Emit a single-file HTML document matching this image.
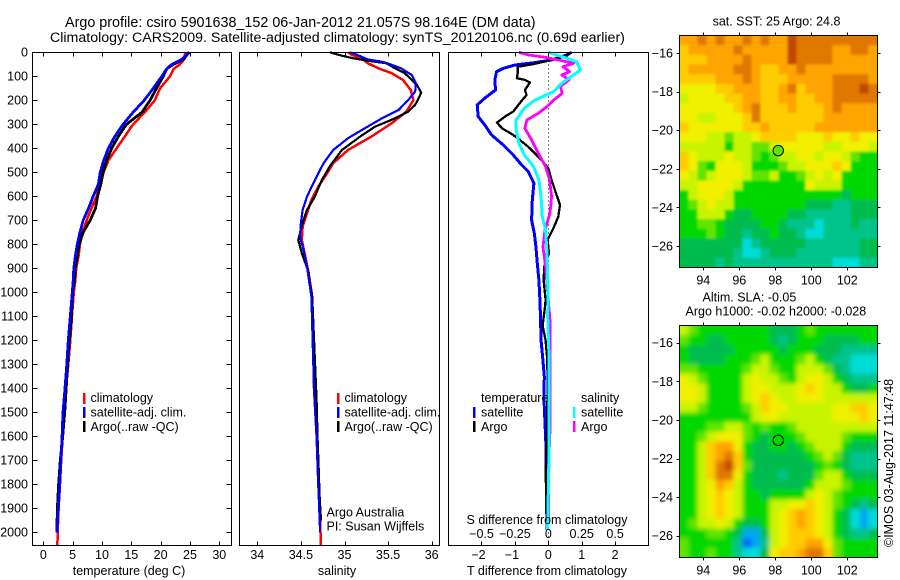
<!DOCTYPE html>
<html><head><meta charset="utf-8"><title>Argo profile</title>
<style>
html,body{margin:0;padding:0;background:#fff}
svg{display:block}
text{font-family:"Liberation Sans",sans-serif;font-size:12.5px;fill:#000}
text.big1{font-size:14.35px}
text.big2{font-size:14.2px}
</style></head>
<body>
<svg id="chart" width="900" height="580" viewBox="0 0 900 580" xmlns="http://www.w3.org/2000/svg">
<defs>
<clipPath id="clipSla"><rect x="679.5" y="325.5" width="198" height="232"/></clipPath>
<clipPath id="clipSst"><rect x="679.5" y="35.5" width="198" height="232"/></clipPath>
<filter id="soft" filterUnits="userSpaceOnUse" x="640" y="290" width="260" height="290"><feGaussianBlur stdDeviation="2.3"/></filter>
<filter id="softer" filterUnits="userSpaceOnUse" x="640" y="0" width="260" height="290"><feGaussianBlur stdDeviation="1.3"/></filter>
</defs>
<rect width="900" height="580" fill="#fff"/>
<g id="layer"></g>
<text class="big1" x="65" y="27">Argo profile: csiro 5901638_152 06-Jan-2012 21.057S 98.164E (DM data)</text>
<text class="big2" x="50" y="42">Climatology: CARS2009. Satellite-adjusted climatology: synTS_20120106.nc (0.69d earlier)</text>
<text x="129" y="575" text-anchor="middle">temperature (deg C)</text>
<text x="337" y="575" text-anchor="middle">salinity</text>
<text x="547" y="575" text-anchor="middle">T difference from climatology</text>
<text x="547" y="524" text-anchor="middle">S difference from climatology</text>

<g>
<rect x="83" y="393" width="2.5" height="11" fill="#f00"/>
<rect x="83" y="407" width="2.5" height="11" fill="#00f"/>
<rect x="83" y="421" width="2.5" height="11" fill="#000"/>
<text x="90.5" y="402">climatology</text>
<text x="90.5" y="416.5">satellite-adj. clim.</text>
<text x="90.5" y="431">Argo(..raw -QC)</text>
</g>
<g>
<rect x="337" y="393" width="2.5" height="11" fill="#f00"/>
<rect x="337" y="407" width="2.5" height="11" fill="#00f"/>
<rect x="337" y="421" width="2.5" height="11" fill="#000"/>
<text x="344.5" y="402">climatology</text>
<text x="344.5" y="416.5">satellite-adj. clim.</text>
<text x="344.5" y="431">Argo(..raw -QC)</text>
</g>
<text x="326.5" y="516.5">Argo Australia</text>
<text x="326.5" y="530.5">PI: Susan Wijffels</text>
<g>
<text x="481" y="402">temperature</text>
<rect x="473" y="407" width="2.5" height="11" fill="#00f"/>
<rect x="473" y="421" width="2.5" height="11" fill="#000"/>
<text x="481" y="416.5">satellite</text>
<text x="481" y="431">Argo</text>
<text x="581" y="402">salinity</text>
<rect x="573" y="407" width="2.5" height="11" fill="#0ff"/>
<rect x="573" y="421" width="2.5" height="11" fill="#f0f"/>
<text x="581" y="416.5">satellite</text>
<text x="581" y="431">Argo</text>
</g>
<text x="776.5" y="25.5" text-anchor="middle">sat. SST: 25 Argo: 24.8</text>
<text x="702.5" y="301.5">Altim. SLA: -0.05</text>
<text x="685.5" y="315.5">Argo h1000: -0.02 h2000: -0.028</text>
<text transform="translate(893,547) rotate(-90)">©IMOS 03-Aug-2017 11:47:48</text>

<script>
// ---- temperature panel data ----
const tempDepths = [0,30,50,70,100,150,200,250,300,350,400,450,500,550,600,650,700,750,800,850,900,950,1000,1100,1200,1300,1400,1500,1600,1700,1800,1900,2000,2055];
const tempClim = [24.2,24,23.3,22.2,21.6,19.9,19,17.3,15.3,13.9,12.5,11.1,10.3,9.7,9.1,8.2,7.4,6.7,6.25,6,5.6,5.45,5.2,4.9,4.6,4.26,3.86,3.6,3.3,3.05,2.85,2.6,2.45,2.4];
const tempArgo = [24.8,23.9,22.2,21,20.45,19.3,18.2,16.8,14.2,12.8,11.65,10.8,10.2,9.8,9.25,8.9,8,6.8,6.1,5.8,5.45,5.3,5,4.8,4.45,4.15,3.9,3.65,3.3,2.9,2.6,2.4,2.3];
const tempSat = [24.9,23.6,21.9,21,20.2,18.75,17.2,15.3,13.6,12.2,11.1,10.3,9.7,9.4,8.5,7.7,6.8,6.25,5.8,5.45,5.2,5.1,4.95,4.6,4.26,4,3.7,3.35,3.2,3,2.8,2.55,2.33];
const tempTicks = [0,5,10,15,20,25,30];
const depthTicks = [0,100,200,300,400,500,600,700,800,900,1000,1100,1200,1300,1400,1500,1600,1700,1800,1900,2000];

// ---- salinity panel data ----
const salClimDepths = [0,10,20,30,46,67,87,115,157,199,247,296,351,407,462,504,560,615,671,727,782,851,921,1018,1200,1400,1500,1600,1700,1800,1900,2000,2055];
const salClim = [35.04,35.08,35.16,35.21,35.27,35.39,35.54,35.67,35.76,35.79,35.71,35.54,35.31,35.04,34.87,34.8,34.7,34.62,34.57,34.52,34.51,34.55,34.59,34.63,34.64,34.65,34.665,34.68,34.69,34.7,34.715,34.725,34.73];
const salArgoDepths = [0,14,25,35,46,67,87,115,136,168,192,219,247,275,310,351,407,476,532,601,657,712,782,837,907,1018,1450,1600,1750,1850,1950];
const salArgo = [34.83,34.97,35.1,35.27,35.48,35.58,35.69,35.77,35.83,35.88,35.85,35.81,35.73,35.58,35.35,35.18,34.97,34.83,34.74,34.66,34.57,34.52,34.47,34.51,34.58,34.63,34.68,34.69,34.705,34.715,34.73];
const salSatDepths = [0,10,30,39,49,67,94,129,164,199,240,275,317,358,407,462,532,601,657,712,768,823,893,1018,1400,1600,1800,2000];
const salSat = [35.06,35.14,35.27,35.43,35.52,35.65,35.77,35.82,35.81,35.73,35.62,35.43,35.23,35.04,34.87,34.76,34.66,34.57,34.52,34.5,34.49,34.53,34.57,34.62,34.65,34.68,34.7,34.72];
const salTicks = [34,34.5,35,35.5,36];
const salTickLabels = ['34','34.5','35','35.5','36'];

// ---- difference panel data ----
const diffTSatDepths = [0,11,32,43,53,67,81,115,157,185,219,268,303,344,386,428,469,497,546,615,699,754,810,879,949,1032,1115,1198,1268,1351,1448,1545,1643,1754,1879,1990];
const diffTSat = [0.7,0.55,0.1,-0.4,-1,-1.35,-1.55,-1.6,-1.58,-1.85,-2.13,-2.1,-1.9,-1.7,-1.35,-1.05,-0.8,-0.6,-0.43,-0.48,-0.5,-0.42,-0.37,-0.33,-0.28,-0.25,-0.23,-0.22,-0.17,-0.12,-0.13,-0.1,-0.07,-0.06,-0.05,-0.04];
const diffTArgoDepths = [0,15,35,49,60,88,108,115,126,157,178,206,247,268,293,317,344,365,400,442,483,532,587,636,685,734,782,837,893,949,1032,1060,1140,1200,1268,1351,1518,1754,1879,1990];
const diffTArgo = [0.68,0.55,0,-0.45,-0.92,-0.92,-0.94,-0.7,-0.55,-0.7,-0.65,-0.82,-1.05,-1.3,-1.54,-1.38,-1.05,-0.85,-0.55,-0.25,0,0.1,0.23,0.35,0.3,0.15,-0.02,0.02,-0.12,-0.14,-0.08,-0.1,-0.17,-0.08,-0.04,-0.02,-0.03,-0.08,-0.05,-0.04];
const diffSSatDepths = [0,11,25,39,74,94,129,164,199,233,282,324,379,428,476,532,601,685,740,837,949,1032,1090,1268,1476,1680,1990];
const diffSSat = [0,0.06,0.14,0.21,0.24,0.19,0.1,0.04,-0.1,-0.18,-0.24,-0.24,-0.22,-0.18,-0.11,-0.07,-0.055,-0.045,-0.02,-0.01,-0.005,0,-0.005,0.005,0.005,0.005,-0.005];
const diffSArgoDepths = [0,11,21,35,46,60,81,94,115,143,171,199,226,254,282,317,365,421,476,532,601,671,740,810,893,1032,1130,1268,1545,1754,1965];
const diffSArgo = [-0.22,-0.15,-0.025,0.1,0.19,0.11,0.16,0.1,0.155,0.09,0.105,0.04,-0.01,-0.075,-0.16,-0.175,-0.125,-0.075,-0.02,0.01,0.025,0.0125,-0.025,-0.04,-0.02,0,0.015,0.015,0.015,0,0.002];
const diffTTicks = [-2,-1,0,1,2];
const diffSTicks = [-0.5,-0.25,0,0.25,0.5];
const diffSTickLabels = ['\u22120.5','\u22120.25','0','0.25','0.5'];

// ---- map data: colour level per 0.5 degree cell, north to south ----
const lonTicks = [94,96,98,100,102];
const latTicks = [-16,-18,-20,-22,-24,-26];
const floatLon = 98.164;
const floatLat = -21.057;
const sstLevels = [
[10,10,11,10,11,10,10,11,10,11,10,10,12,11,11,11,11,11,11,11,11,11],
[9,10,10,10,10,10,11,10,10,10,10,10,12,11,11,11,11,10,10,11,11,10],
[9,9,9,10,10,10,10,11,10,10,10,10,12,11,11,11,11,10,10,10,10,10],
[9,10,10,10,10,10,11,11,10,9,9,10,10,11,10,10,10,10,10,10,10,10],
[9,9,9,9,10,10,10,11,10,9,9,9,10,10,10,10,10,11,11,11,11,10],
[8,8,8,8,9,9,10,10,10,9,9,10,11,9,10,10,10,11,11,11,12,11],
[7,8,8,8,8,9,9,10,10,9,9,10,10,9,9,10,10,11,11,11,11,11],
[8,8,8,8,8,8,9,10,11,9,9,9,10,9,9,9,10,11,10,10,10,10],
[8,8,7,7,8,8,8,9,11,9,9,9,9,9,9,9,10,10,10,10,10,10],
[9,8,8,8,8,8,8,9,9,10,9,9,9,9,9,10,10,10,10,10,10,10],
[8,8,8,7,7,6,7,7,8,9,9,9,9,8,8,8,9,8,8,9,8,8],
[7,7,7,7,7,5,7,7,6,6,7,8,8,8,8,8,7,7,8,8,8,7],
[9,8,7,7,7,8,7,7,6,5,6,7,7,8,8,7,8,8,7,6,5,5],
[9,8,6,5,8,8,8,7,5,5,5,6,7,7,8,8,8,9,8,5,5,5],
[8,7,6,7,8,8,8,7,6,6,7,5,5,6,7,8,7,8,5,5,5,5],
[7,7,8,8,8,8,7,5,5,5,5,5,5,5,8,7,7,7,5,5,5,5],
[5,7,8,8,8,7,5,5,5,5,5,5,5,5,5,5,5,5,4,5,5,5],
[5,6,7,8,7,7,5,5,5,5,5,5,5,5,4,4,4,3,3,4,4,4],
[5,5,7,7,7,5,4,4,5,5,5,5,4,4,3,3,3,3,3,4,4,4],
[5,5,6,6,5,4,4,4,4,5,5,4,3,3,3,2,3,3,3,4,3,3],
[5,5,5,6,5,4,4,3,4,4,5,4,4,3,2,2,3,3,3,3,3,3],
[4,4,4,4,4,4,4,2,3,4,4,4,4,4,3,3,3,3,3,3,4,4],
[4,4,4,4,4,4,3,2,2,3,4,4,4,3,3,3,3,3,3,3,4,4],
[4,4,4,4,3,4,3,3,3,3,3,3,3,3,3,3,3,2,2,2,3,3]
];
const slaLevels = [
[7,6,5,5,5,5,5,5,5,5,4,4,4,5,6,5,5,5,5,5,5,5],
[6,5,5,4,4,5,5,5,5,5,4,3,4,5,5,5,4,4,4,4,5,5],
[5,4,4,4,4,4,5,5,5,5,5,4,5,5,5,4,4,4,3,3,3,3],
[5,4,4,4,4,5,5,5,6,7,5,5,5,6,7,5,4,3,3,2,2,2],
[6,6,5,5,5,5,5,6,7,7,6,5,5,7,7,7,6,4,3,2,2,2],
[8,7,6,5,5,5,5,7,8,7,7,6,5,7,8,8,7,5,4,3,3,3],
[8,8,7,5,5,5,5,7,8,8,7,7,7,8,9,8,7,7,5,4,4,5],
[8,8,7,5,5,5,5,7,8,9,8,7,7,8,8,8,7,7,7,7,7,7],
[7,7,6,5,5,5,5,6,7,9,8,8,7,7,7,7,7,8,8,9,9,8],
[5,5,5,5,5,5,5,5,7,8,8,7,7,7,7,7,7,8,8,8,9,8],
[5,5,5,6,6,7,7,6,5,6,5,5,6,7,7,7,7,7,7,7,7,7],
[5,5,6,7,8,8,8,6,5,4,5,5,5,6,7,7,7,7,6,5,5,5],
[5,5,7,9,10,10,8,5,4,4,5,5,4,5,6,7,7,7,5,4,4,4],
[5,5,7,9,10,11,9,5,4,4,4,4,4,4,5,6,7,6,4,3,3,3],
[5,5,7,9,11,12,9,6,4,4,4,4,4,4,4,5,6,5,4,3,3,3],
[5,5,7,9,11,11,8,5,4,4,4,3,4,4,4,6,7,7,5,4,4,4],
[5,5,7,8,10,9,7,5,4,4,4,4,4,4,5,7,7,7,6,5,5,5],
[5,5,7,8,9,8,7,5,5,4,5,5,5,5,7,8,7,6,5,5,5,5],
[5,5,7,8,9,8,7,5,5,5,7,7,8,8,9,8,7,6,5,4,3,4],
[5,5,7,8,9,8,7,5,5,5,7,8,9,10,9,8,7,5,4,2,1,2],
[5,6,7,7,8,7,5,4,4,5,7,8,9,10,9,8,7,5,4,2,1,2],
[5,5,5,6,6,5,4,1,1,4,7,8,9,9,9,8,7,5,4,3,3,4],
[6,5,5,5,5,5,3,0,1,3,7,8,9,9,10,10,8,6,5,5,5,5],
[6,5,5,6,5,5,3,2,2,4,8,9,9,10,11,11,9,6,5,5,5,5]
];

// ---- drawing ----
const NS = 'http://www.w3.org/2000/svg';
const layer = document.getElementById('layer');
const levelColors = ['#0068ff','#00a8f0','#00dcd8','#00c48c','#00bc50','#00d800','#60e400','#c8f400','#f0f000','#ffcc00','#ffa400','#e07800','#c04800'];

function make(tag, name, parent, attrs) {
  const el = document.createElementNS(NS, tag);
  
  
  for (const k in attrs) el.setAttribute(k, attrs[k]);
  (parent || layer).appendChild(el);
  return el;
}
function label(name, x, y, txt, anchor) {
  const t = make('text', name, layer, {x: x, y: y, 'text-anchor': anchor});
  t.textContent = txt;
}
const PT = 52.5, PB = 545.5;
const yDepth = d => 52.3 + d * 0.24;
const xTemp = v => 43.3 + v * 5.867;
const xSal = v => 257.3 + (v - 34) * 87.2;
const xDiffT = v => 548.3 + v * 33.4;
const xDiffS = v => 548.3 + v * 133.6;

function profile(name, xFn, vals, depths, color, width) {
  const pts = vals.map((v, i) => xFn(v).toFixed(1) + ',' + yDepth(depths[i]).toFixed(1)).join(' ');
  make('polyline', name, layer, {points: pts, fill: 'none', stroke: color, 'stroke-width': width, 'stroke-linejoin': 'round', 'shape-rendering': 'crispEdges'});
}
function box(name, l, r, t, b) {
  make('rect', name, layer, {x: l, y: t, width: r - l, height: b - t, fill: 'none', stroke: '#000', 'stroke-width': 1, 'shape-rendering': 'crispEdges'});
}
function tickLine(name, x1, y1, x2, y2) {
  make('line', name, layer, {x1: x1, y1: y1, x2: x2, y2: y2, stroke: '#000', 'stroke-width': 1, 'shape-rendering': 'crispEdges'});
}

// curves
profile('temperature-climatology-line', xTemp, tempClim, tempDepths, '#f00', 2.5);
profile('temperature-argo-line', xTemp, tempArgo, tempDepths, '#000', 2.8);
profile('temperature-satellite-line', xTemp, tempSat, tempDepths, '#00f', 2.8);
profile('salinity-climatology-line', xSal, salClim, salClimDepths, '#f00', 2.5);
profile('salinity-argo-line', xSal, salArgo, salArgoDepths, '#000', 2.2);
profile('salinity-satellite-line', xSal, salSat, salSatDepths, '#00f', 2.2);
make('line', 'zero-difference-line', layer, {x1: 548.5, y1: PT, x2: 548.5, y2: PB, stroke: '#000', 'stroke-width': 1, 'stroke-dasharray': '1 3'});
profile('t-difference-satellite-line', xDiffT, diffTSat, diffTSatDepths, '#00f', 3);
profile('t-difference-argo-line', xDiffT, diffTArgo, diffTArgoDepths, '#000', 2.3);
profile('s-difference-argo-line', xDiffS, diffSArgo, diffSArgoDepths, '#f0f', 2.8);
profile('s-difference-satellite-line', xDiffS, diffSSat, diffSSatDepths, '#0ff', 3);

// profile panel frames
box('temperature-panel-frame', 32.5, 231.5, PT, PB);
box('salinity-panel-frame', 239.5, 439.5, PT, PB);
box('difference-panel-frame', 448.5, 648.5, PT, PB);

// temperature axes
tempTicks.forEach(v => {
  const x = Math.round(xTemp(v)) + 0.5;
  tickLine('temperature-tick-top', x, PT, x, PT + 4);
  tickLine('temperature-tick-bottom', x, PB, x, PB - 4);
  label('temperature-tick-label', xTemp(v), 559, String(v), 'middle');
});
depthTicks.forEach(d => {
  const y = Math.round(yDepth(d)) + 0.5;
  tickLine('depth-tick-left', 32.5, y, 37.5, y);
  tickLine('depth-tick-right', 231.5, y, 226.5, y);
  label('depth-tick-label', 28, yDepth(d) + 4.3, String(d), 'end');
});

// salinity axis
salTicks.forEach((v, i) => {
  const x = Math.round(xSal(v)) + 0.5;
  tickLine('salinity-tick-top', x, PT, x, PT + 4);
  tickLine('salinity-tick-bottom', x, PB, x, PB - 4);
  label('salinity-tick-label', xSal(v), 559, salTickLabels[i], 'middle');
});

// difference axes
diffTTicks.forEach(v => {
  const x = Math.round(xDiffT(v)) + 0.5;
  tickLine('t-difference-tick-top', x, PT, x, PT + 4);
  tickLine('t-difference-tick-bottom', x, PB, x, PB - 4);
  label('t-difference-tick-label', xDiffT(v) - (v < 0 ? 3 : 0), 559, (v < 0 ? '\u2212' : '') + Math.abs(v), 'middle');
});
diffSTicks.forEach((v, i) => {
  label('s-difference-tick-label', xDiffS(v), 538, diffSTickLabels[i], 'middle');
});

// maps
const ML = 679.5, MR = 877.5, MH = 232;
const xLon = lon => 703.3 + (lon - 94) * 18;
const ySst = lat => 53 + (-16 - lat) * 19.3;
const ySla = lat => 342.7 + (-16 - lat) * 19.3;

function heatmap(name, levels, top, clip, filter) {
  const g = make('g', name + '-cells', layer, {'clip-path': 'url(#' + clip + ')'});
  const inner = make('g', name + '-cell-group', g, {filter: 'url(#' + filter + ')'});
  const cols = levels[0].length, rows = levels.length;
  const cw = (MR - ML) / cols, ch = MH / rows;
  levels.forEach((row, j) => row.forEach((v, i) => {
    const pad = 16;
    const x0 = ML + i * cw - (i === 0 ? pad : 0);
    const y0 = top + j * ch - (j === 0 ? pad : 0);
    const x1 = ML + (i + 1) * cw + (i === cols - 1 ? pad : 0);
    const y1 = top + (j + 1) * ch + (j === rows - 1 ? pad : 0);
    make('rect', name + '-cell', inner, {x: x0.toFixed(2), y: y0.toFixed(2), width: (x1 - x0 + 0.4).toFixed(2), height: (y1 - y0 + 0.4).toFixed(2), fill: levelColors[Math.max(0, Math.min(12, Math.round(v)))]});
  }));
}
function mapAxes(name, top, yFn, circleFill) {
  box(name + '-frame', ML, MR, top, top + MH);
  lonTicks.forEach(lon => {
    const x = Math.round(xLon(lon)) + 0.5;
    tickLine(name + '-lon-tick-top', x, top, x, top - 3);
    tickLine(name + '-lon-tick-bottom', x, top + MH, x, top + MH + 3);
    label(name + '-lon-tick-label', xLon(lon), top + MH + 17, String(lon), 'middle');
  });
  latTicks.forEach(lat => {
    const y = Math.round(yFn(lat)) + 0.5;
    tickLine(name + '-lat-tick-left', ML, y, ML - 3, y);
    tickLine(name + '-lat-tick-right', MR, y, MR + 3, y);
    label(name + '-lat-tick-label', 673, yFn(lat) + 4.5, '\u2212' + Math.abs(lat), 'end');
  });
  make('circle', name + '-float-marker', layer, {cx: xLon(floatLon), cy: yFn(floatLat), r: 5.2, fill: circleFill, stroke: '#000', 'stroke-width': 1});
}
heatmap('sst-map', sstLevels, 35.5, 'clipSst', 'softer');
mapAxes('sst-map', 35.5, ySst, '#60e400');
heatmap('sla-map', slaLevels, 325.5, 'clipSla', 'soft');
mapAxes('sla-map', 325.5, ySla, '#00d800');
</script>
</svg>
</body></html>
